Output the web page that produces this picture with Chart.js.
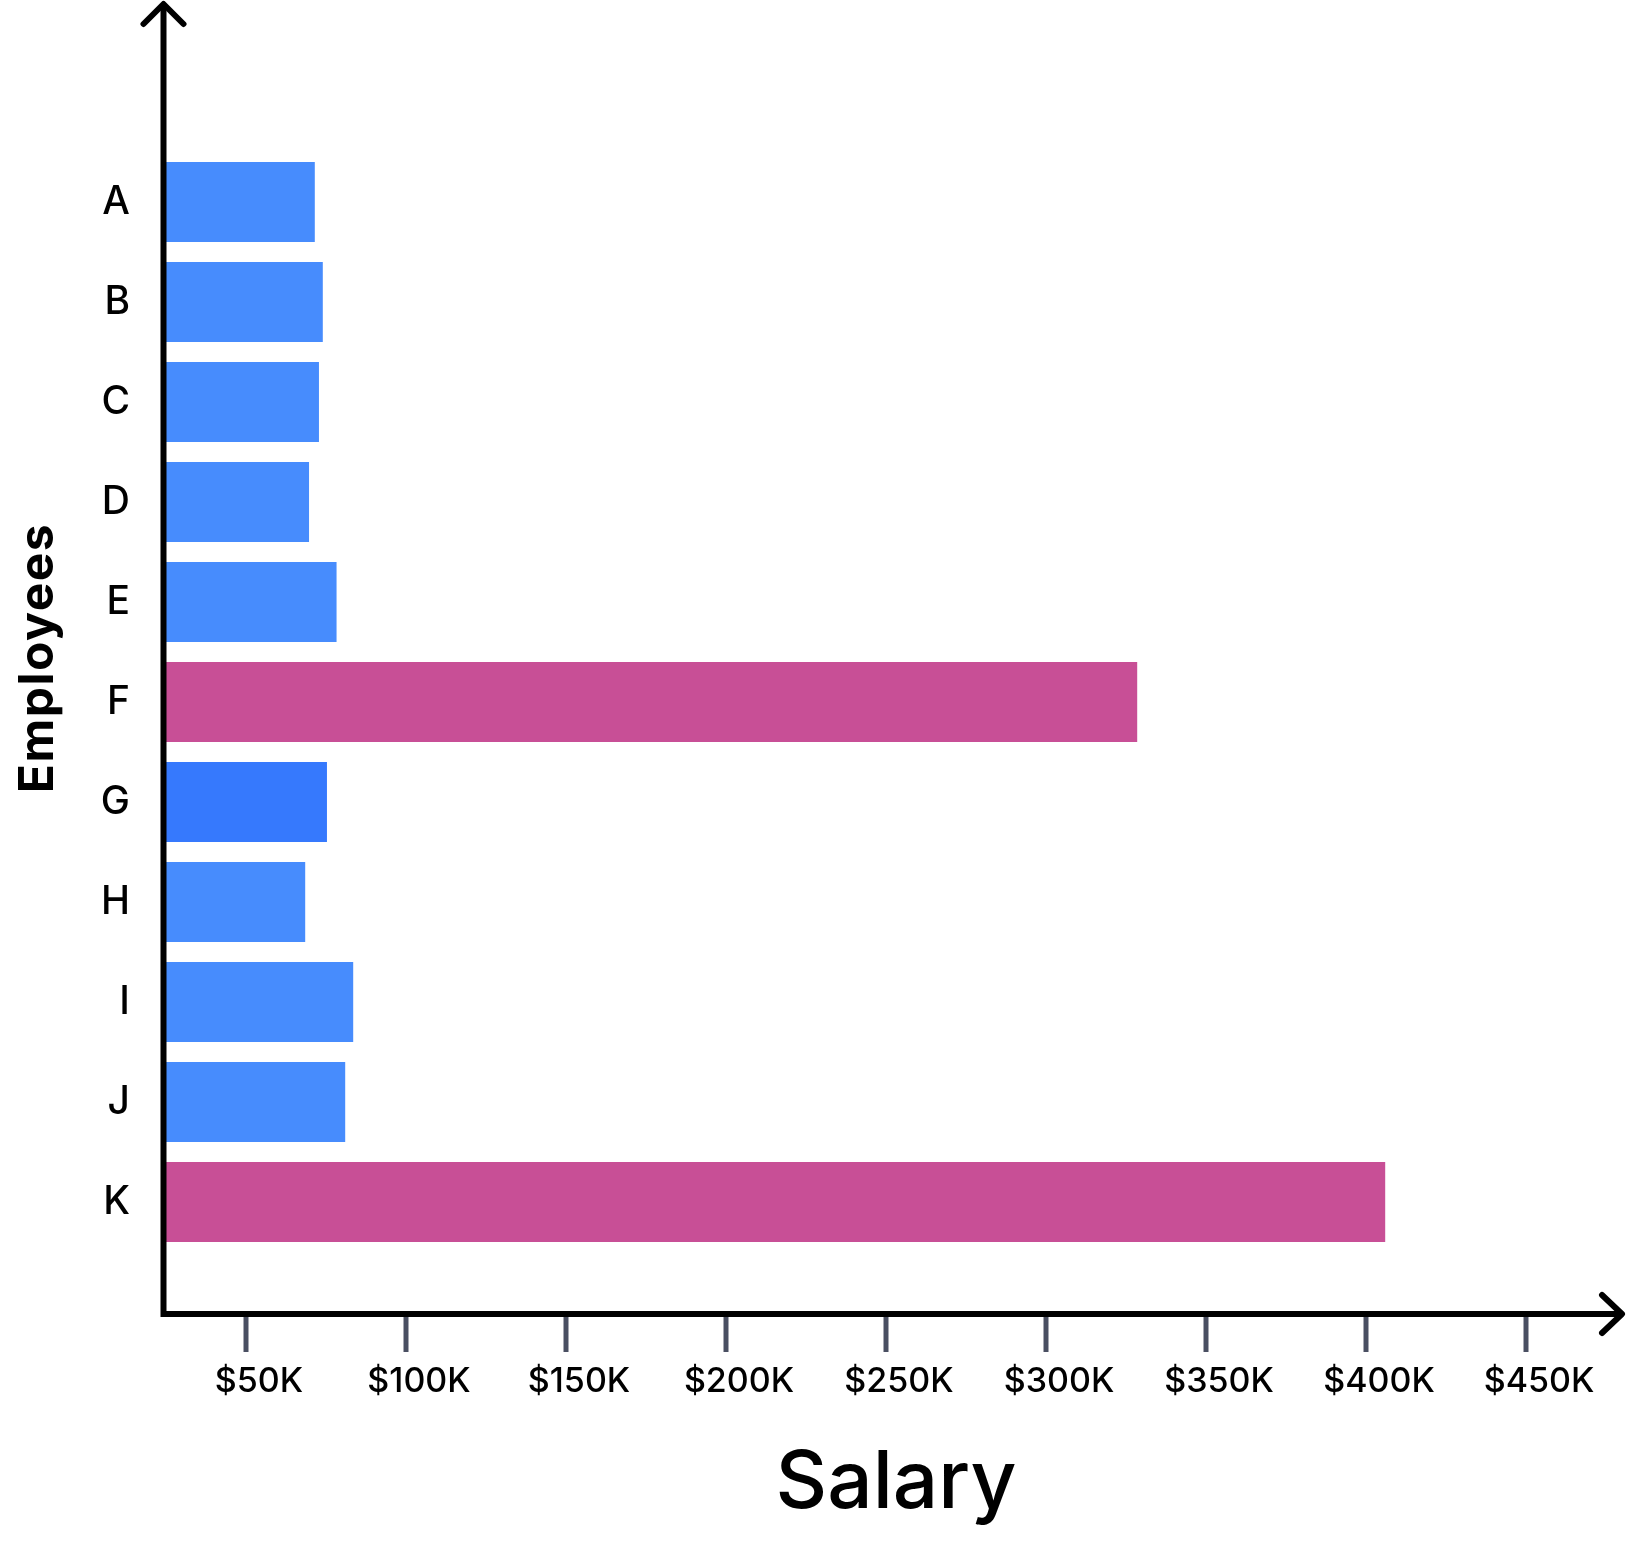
<!DOCTYPE html>
<html>
<head>
<meta charset="utf-8">
<script src="https://cdn.jsdelivr.net/npm/chart.js@4.4.1/dist/chart.umd.min.js"></script>
<style>
    html, body { margin: 0; padding: 0; background: #fff; }
    canvas { display: block; }
</style>
</head>
<body>
<canvas id="myChart" width="1626" height="1542"></canvas>
<script>
// data
var employees = ['A', 'B', 'C', 'D', 'E', 'F', 'G', 'H', 'I', 'J', 'K'];
var salaries = [71500, 74000, 72800, 69700, 78300, 328500, 75300, 68500, 83500, 81000, 406000];
var salaryTicks = [50000, 100000, 150000, 200000, 250000, 300000, 350000, 400000, 450000];
var salaryTickLabels = ['$50K', '$100K', '$150K', '$200K', '$250K', '$300K', '$350K', '$400K', '$450K'];
var xTitle = 'Salary';
var yTitle = 'Employees';

var blue = '#478cfd', darkBlue = '#3679fd', pink = '#c84f96';
var barColors = [blue, blue, blue, blue, blue, pink, darkBlue, blue, blue, blue, pink];
var FONT = 'Inter, "Noto Sans", sans-serif';

// axis lines with arrows, tick marks and the two titles
var axesPlugin = {
    id: 'axes',
    afterDatasetsDraw: function (chart) {
        var ctx = chart.ctx;
        var area = chart.chartArea;
        var xs = chart.scales.x;
        var ax = area.left - 2.5;
        var ay = area.bottom + 62;
        var right = chart.width - 4;

        ctx.save();
        ctx.strokeStyle = '#4a4f62';
        ctx.lineWidth = 5;
        ctx.lineCap = 'butt';
        salaryTicks.forEach(function (v) {
            var px = xs.getPixelForValue(v);
            ctx.beginPath();
            ctx.moveTo(px, ay);
            ctx.lineTo(px, ay + 38);
            ctx.stroke();
        });

        ctx.strokeStyle = '#000';
        ctx.lineWidth = 6;
        ctx.lineJoin = 'miter';
        ctx.beginPath();
        ctx.moveTo(ax, 4);
        ctx.lineTo(ax, ay);
        ctx.lineTo(right, ay);
        ctx.stroke();

        ctx.lineCap = 'round';
        ctx.lineJoin = 'round';
        ctx.beginPath();
        ctx.moveTo(ax - 20, 24);
        ctx.lineTo(ax, 4);
        ctx.lineTo(ax + 20, 24);
        ctx.stroke();
        ctx.beginPath();
        ctx.moveTo(right - 20, ay - 19);
        ctx.lineTo(right, ay);
        ctx.lineTo(right - 20, ay + 19);
        ctx.stroke();

        ctx.fillStyle = '#000';
        ctx.font = '500 80px ' + FONT;
        ctx.textAlign = 'center';
        ctx.textBaseline = 'alphabetic';
        ctx.fillText(xTitle, 896, 1508);

        ctx.translate(39, 658);
        ctx.rotate(-Math.PI / 2);
        ctx.font = 'bold 48px ' + FONT;
        ctx.letterSpacing = '1.5px';
        ctx.textBaseline = 'middle';
        ctx.fillText(yTitle, 0, 0);
        ctx.restore();
    }
};

var myChart = new Chart(document.getElementById('myChart'), {
    type: 'bar',
    data: {
        labels: employees,
        datasets: [{
            data: salaries,
            backgroundColor: barColors,
            borderWidth: 0,
            barPercentage: 0.8,
            categoryPercentage: 1.0
        }]
    },
    options: {
        indexAxis: 'y',
        responsive: false,
        devicePixelRatio: 1,
        animation: false,
        layout: { padding: { top: 152, right: 20, left: 0, bottom: 0 } },
        plugins: {
            legend: { display: false },
            tooltip: { enabled: false }
        },
        scales: {
            x: {
                type: 'linear',
                min: 25000,
                max: 475000,
                grid: { display: false, drawTicks: false },
                border: { display: false },
                afterBuildTicks: function (scale) {
                    scale.ticks = salaryTicks.map(function (v) { return { value: v }; });
                },
                afterFit: function (scale) {
                    scale.height = 290;
                    scale.paddingLeft = 0;
                    scale.paddingRight = 0;
                },
                ticks: {
                    autoSkip: false,
                    maxRotation: 0,
                    padding: 109,
                    labelOffset: 13,
                    color: '#000',
                    font: { family: FONT, size: 34, weight: '500' },
                    callback: function (value) {
                        return salaryTickLabels[salaryTicks.indexOf(value)];
                    }
                }
            },
            y: {
                grid: { display: false, drawTicks: false },
                border: { display: false },
                afterFit: function (scale) {
                    scale.width = 166;
                    scale.paddingTop = 0;
                    scale.paddingBottom = 0;
                },
                ticks: {
                    padding: 36,
                    color: '#000',
                    font: { family: FONT, size: 39, weight: '500' }
                }
            }
        }
    },
    plugins: [axesPlugin]
});
</script>
</body>
</html>
